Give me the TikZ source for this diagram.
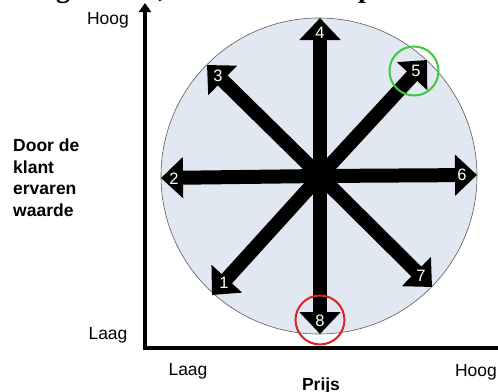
\documentclass[tikz,border=0pt]{standalone}
\usepackage{fontspec}
\setmainfont{Liberation Sans}
\newfontfamily\titlefont{Liberation Serif}
\usetikzlibrary{arrows.meta}
\definecolor{discfill}{HTML}{E2E8F2}
\definecolor{discline}{HTML}{5A5A5A}
\definecolor{ringgreen}{HTML}{3CCB3C}
\definecolor{ringred}{HTML}{DD2020}
\begin{document}
\begin{tikzpicture}[x=1pt,y=-1pt,
  lbl/.style={font=\fontsize{17.5}{21.5}\selectfont, inner sep=0},
  blbl/.style={font=\bfseries\fontsize{17.5}{21.5}\selectfont, inner sep=0},
  num/.style={font=\fontsize{16.5}{16.5}\selectfont, text=white, inner sep=0},
  bigarrow/.style={line width=14pt, -{Triangle[width=40pt,length=22pt]}},
  axisline/.style={line width=4.5pt, -{Triangle[width=12pt,length=9pt]}},
  ring/.style={circle, line width=2pt, minimum size=49pt, inner sep=0},
  tfrag/.style={font=\titlefont\bfseries\fontsize{28}{28}\selectfont, inner sep=0, anchor=base}
]
\useasboundingbox (0,0) rectangle (498,391);
\clip (0,0) rectangle (498,391);

% cut-off title fragments
\node[tfrag] (t1) at (63,-2.5) {g};
\node[tfrag] (t2) at (162,-2.5) {,};
\node[tfrag] (t3) at (366,-2.5) {p};

% disc
\node[circle, draw=discline, fill=discfill, line width=0.6pt, minimum size=316pt, inner sep=0] (disc) at (319,176) {};

% axes
\coordinate (yb) at (145,350);
\coordinate (ytop) at (145,3);
\coordinate (xb) at (143,348);
\coordinate (xend) at (508,348);
\draw[axisline] (yb) -- (ytop);
\draw[axisline] (xb) -- (xend);

% arrows
\coordinate (c) at (320,176);
\coordinate (p1) at (212,295);
\coordinate (p2) at (161,178);
\coordinate (p3) at (207,65);
\coordinate (p4) at (320,18);
\coordinate (p5) at (427,60);
\coordinate (p6) at (477,175);
\coordinate (p7) at (432,287);
\coordinate (p8) at (320,334);
\foreach \p in {p1,p2,p3,p4,p5,p6,p7,p8} \draw[bigarrow] (c) -- (\p);

% numbers
\node[num] (n1) at (224,283) {1};
\node[num] (n2) at (174,178.5) {2};
\node[num] (n3) at (218,76) {3};
\node[num] (n4) at (320,33) {4};
\node[num] (n5) at (416,71) {5};
\node[num] (n6) at (462,175) {6};
\node[num] (n7) at (421,276) {7};
\node[num] (n8) at (320,321) {8};

% highlight rings
\node[ring, draw=ringgreen] (r5) at (414,71) {};
\node[ring, draw=ringred] (r8) at (320,320) {};

% labels
\node[lbl, anchor=base] (hy) at (108,24.5) {Hoog};
\node[lbl, anchor=base] (ly) at (108,339) {Laag};
\node[lbl, anchor=base] (lx) at (188,375.5) {Laag};
\node[lbl, anchor=base] (hx) at (476,376) {Hoog};
\node[blbl, anchor=base] (px) at (321,390) {Prijs};
\node[blbl, anchor=north west, align=left] (vy) at (13,139) {Door de\\klant\\ervaren\\waarde};
\end{tikzpicture}
\end{document}
